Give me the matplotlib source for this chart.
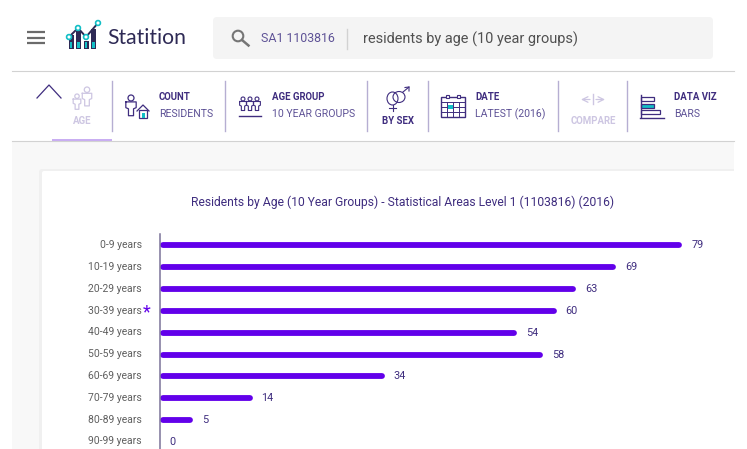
import matplotlib
matplotlib.use('Agg')
import matplotlib.pyplot as plt
from matplotlib.patches import Rectangle, FancyBboxPatch, Circle, Ellipse
from matplotlib.transforms import ScaledTranslation

plt.rcParams['font.family'] = ['Roboto', 'DejaVu Sans']

# chart data
age_groups = ['0-9 years', '10-19 years', '20-29 years', '30-39 years', '40-49 years',
              '50-59 years', '60-69 years', '70-79 years', '80-89 years', '90-99 years']
residents = [79, 69, 63, 60, 54, 58, 34, 14, 5, 0]

title = 'Residents by Age (10 Year Groups) - Statistical Areas Level 1 (1103816) (2016)'

PURPLE = '#3f2d7f'
BAR = '#6200ea'
FAINT = '#cdc6e2'
TEAL = '#12bfc6'
DIV = '#b6aed2'

W, H = 747, 449
fig = plt.figure(figsize=(W / 100, H / 100), dpi=100, facecolor='white')

# page furniture drawn in pixel coordinates
ui = fig.add_axes([0, 0, 1, 1])
ui.set_xlim(0, W)
ui.set_ylim(H, 0)
ui.axis('off')

ui.add_patch(Rectangle((12, 141), 722, 308, fc='#f8f8f8', ec='none'))
ui.add_patch(FancyBboxPatch((39, 169), 710, 290, boxstyle='round,pad=0,rounding_size=3', fc='#f0f0f0', ec='none'))
ui.add_patch(Rectangle((734, 141), 13, 308, fc='white', ec='none', zorder=2))
ui.add_patch(FancyBboxPatch((42, 171), 700, 290, boxstyle='round,pad=0,rounding_size=2', fc='white', ec='none'))
ui.plot([12, 734], [70.5, 70.5], color='#d2d2d2', lw=0.8)
ui.plot([12, 734], [141, 141], color='#d2d2d2', lw=0.8)

# hamburger
for y in [32, 37.5, 43]:
    ui.plot([27, 45], [y, y], color='#6b6b6b', lw=1.6, solid_capstyle='butt')

# logo
for x0, top in [(68.5, 35), (76, 31), (83.5, 41), (91, 29)]:
    ui.add_patch(Rectangle((x0, top), 5, 49 - top, fc='#2e2a55', ec='none'))
    ui.add_patch(Rectangle((x0 + 1.2, 42), 2.6, 6, fc=TEAL, ec='none', zorder=3))
ui.plot([69, 78, 86, 98], [37, 28, 37, 23], color='#2e2a55', lw=1.4, zorder=4)
for cx, cy in [(69, 37), (78, 28), (86, 37), (98, 23)]:
    ui.add_patch(Circle((cx, cy), 2.4, fc='white', ec=TEAL, lw=1.2, zorder=5))
ui.text(107, 37.5, 'Statition', fontsize=15.2, color='#2e2a55', va='center', family='Lato')

# search box
ui.add_patch(FancyBboxPatch((213, 17), 500, 42, boxstyle='round,pad=0,rounding_size=4', fc='#f4f4f4', ec='none'))
ui.add_patch(Circle((238, 36), 5.3, fc='none', ec='#757575', lw=1.5))
ui.plot([242, 248.5], [40, 45.5], color='#757575', lw=1.8)
ui.text(261, 38, 'SA1 1103816', fontsize=8.9, color='#5e5296', va='center')
ui.plot([347, 347], [29, 49], color='#d2d2d2', lw=1)
ui.text(363, 39, 'residents by age (10 year groups)', fontsize=10.45, color='#505050', va='center')

# toolbar dividers
for x in [112, 225, 367, 428, 558, 627]:
    ui.plot([x, x], [81, 131], color=DIV, lw=1)
ui.add_patch(Rectangle((52, 139), 60, 2, fc='#c9aef2', ec='none', zorder=3))

# toolbar labels
def tool(x, y, s, color=PURPLE, bold=True, ha='left'):
    ui.text(x, y, s, fontsize=6.9 if bold else 7.6, color=color, va='center', ha=ha,
            fontweight='bold' if bold else 'normal')

tool(82, 121, 'AGE', FAINT, ha='center')
tool(159, 97, 'COUNT')
tool(159, 114, 'RESIDENTS', '#5e5296', False)
tool(272, 97, 'AGE GROUP')
tool(272, 114, '10 YEAR GROUPS', '#5e5296', False)
tool(398, 121, 'BY SEX', ha='center')
tool(475, 97, 'DATE')
tool(475, 114, 'LATEST (2016)', '#5e5296', False)
tool(593, 121, 'COMPARE', FAINT, ha='center')
tool(674, 97, 'DATA VIZ')
tool(674, 114, 'BARS', '#5e5296', False)

# toolbar icons
ui.plot([37, 49, 61], [98, 85, 98], color=PURPLE, lw=0.9)

def person(cx, top, scale, color, lw=0.9):
    ui.add_patch(Circle((cx, top + 2.6 * scale), 2.6 * scale, fc='none', ec=color, lw=lw))
    xs = [cx - 4.5 * scale, cx + 4.5 * scale, cx + 4.5 * scale, cx + 2.2 * scale, cx + 2.2 * scale,
          cx - 2.2 * scale, cx - 2.2 * scale, cx - 4.5 * scale, cx - 4.5 * scale]
    ys = [top + 6 * scale, top + 6 * scale, top + 11 * scale, top + 12 * scale, top + 18 * scale,
          top + 18 * scale, top + 12 * scale, top + 11 * scale, top + 6 * scale]
    ui.plot(xs, ys, color=color, lw=lw)

person(77, 94, 0.85, FAINT)
person(87, 87, 1.05, FAINT)
person(131, 95, 1.15, PURPLE)
ui.plot([137, 143, 149], [111, 105, 111], color=PURPLE, lw=0.9)
ui.add_patch(Rectangle((139, 110), 8, 7.5, fc='none', ec=PURPLE, lw=0.9))
ui.add_patch(Rectangle((141.5, 113), 3, 4.5, fc=TEAL, ec='none'))
for cx in [243, 250, 257]:
    person(cx, 97, 0.75, PURPLE, 0.8)
ui.plot([239, 261], [116, 116], color=PURPLE, lw=1)

ui.add_patch(Ellipse((392.5, 98.5), 11, 13, fc='none', ec=PURPLE, lw=0.8))
ui.add_patch(Ellipse((399, 97), 12, 11, fc='none', ec=PURPLE, lw=0.8))
ui.plot([403, 409], [92, 87], color=PURPLE, lw=0.8)
ui.plot([405, 409, 409], [87.5, 87, 91], color=PURPLE, lw=0.8)
ui.plot([392.5, 392.5], [105, 111], color=PURPLE, lw=0.8)
ui.plot([389, 396], [108, 108], color=PURPLE, lw=0.8)

ui.add_patch(Rectangle((441, 97), 24, 20, fc='none', ec=PURPLE, lw=1))
for x in [447, 453, 459]:
    ui.plot([x, x], [102, 117], color=PURPLE, lw=0.7)
for y in [102, 107, 112]:
    ui.plot([441, 465], [y, y], color=PURPLE, lw=0.7)
ui.add_patch(Rectangle((447.5, 105), 5, 4, fc=TEAL, ec='none', zorder=3))
ui.add_patch(Rectangle((446, 94.5), 3, 3.5, fc='white', ec=PURPLE, lw=0.8, zorder=3))
ui.add_patch(Rectangle((457, 94.5), 3, 3.5, fc='white', ec=PURPLE, lw=0.8, zorder=3))

ui.plot([592.5, 592.5], [94, 104], color=FAINT, lw=1)
ui.annotate('', (581, 99.5), (590, 99.5), arrowprops=dict(arrowstyle='->', color=FAINT, lw=0.9, shrinkA=0, shrinkB=0))
ui.annotate('', (605, 99.5), (596, 99.5), arrowprops=dict(arrowstyle='->', color=FAINT, lw=0.9, shrinkA=0, shrinkB=0))

ui.plot([640.5, 640.5], [95, 117], color=PURPLE, lw=1)
ui.plot([640, 664], [117.5, 117.5], color=PURPLE, lw=1)
ui.add_patch(Rectangle((641, 96.5), 13, 4, fc='none', ec=PURPLE, lw=0.9))
ui.add_patch(Rectangle((641, 103.5), 13, 4, fc=TEAL, ec=PURPLE, lw=0.9))
ui.add_patch(Rectangle((641, 110), 19, 4, fc='none', ec=PURPLE, lw=0.9))

# chart title
ui.text(403, 202, title, fontsize=8.7, color=PURPLE, ha='center', va='center', family='Roboto', zorder=6)
ui.text(143, 312, '*', fontsize=13, color=BAR, va='center')

# chart axes: 6.61 px per resident, 21.8 px per row
x_left, x_right = 160, 734
y_top, y_bottom = 234, 449
ax = fig.add_axes([x_left / W, 1 - y_bottom / H, (x_right - x_left) / W, (y_bottom - y_top) / H])
ax.patch.set_alpha(0)
ax.set_xlim(0, (x_right - x_left) / 6.61)
ax.set_ylim((y_bottom - 245.5) / 21.8, (y_top - 245.5) / 21.8)

positions = list(range(len(age_groups)))
for pos, value in zip(positions, residents):
    if value > 0:
        ax.plot([0.45, value - 0.45], [pos, pos], color=BAR, lw=4.2, solid_capstyle='round', clip_on=False)
    ax.annotate(str(value), (value, pos), xytext=(6.5, 0), textcoords='offset points',
                fontsize=7.8, color=PURPLE, va='center')

ax.set_yticks(positions)
ax.set_yticklabels(age_groups, fontsize=7.5, color='#5f5f5f')
ax.tick_params(axis='y', length=0, pad=13)
# labels sit a little above the bars
for label in ax.get_yticklabels():
    label.set_transform(label.get_transform() + ScaledTranslation(0, 1.0 / 72, fig.dpi_scale_trans))
ax.set_xticks([])
for side in ['top', 'right', 'bottom']:
    ax.spines[side].set_visible(False)
ax.spines['left'].set_color('#7b7399')
ax.spines['left'].set_linewidth(1.1)

fig.savefig('out.png', dpi=100)
